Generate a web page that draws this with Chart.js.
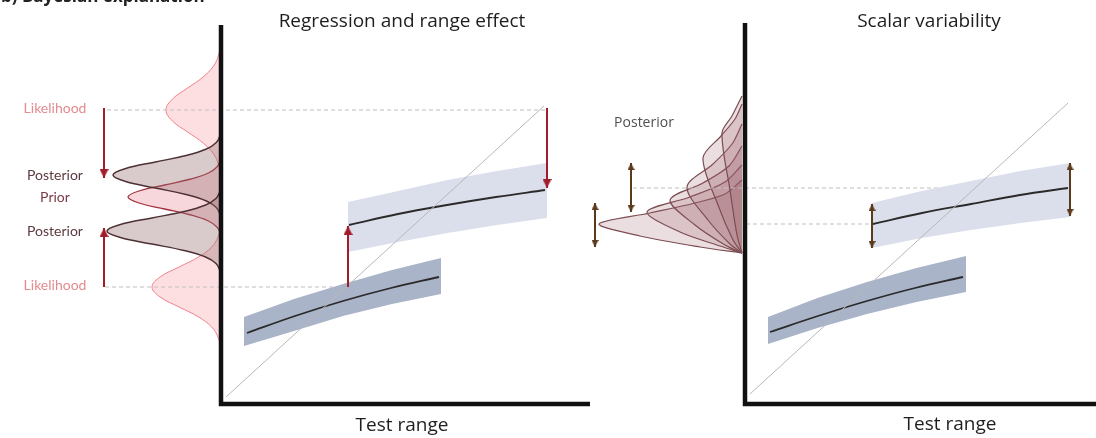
<!DOCTYPE html>
<html>
<head>
<meta charset="utf-8">
<script src="https://cdn.jsdelivr.net/npm/chart.js@4.4.1/dist/chart.umd.min.js"></script>
<style>
  html, body { margin: 0; padding: 0; background: #fff; overflow: hidden; }
  #wrap { position: relative; width: 1096px; height: 438px; }
  canvas { position: absolute; top: 0; }
  #left { left: 0; }
  #right { left: 584px; }
</style>
</head>
<body>
<div id="wrap">
  <canvas id="left" width="592" height="438"></canvas>
  <canvas id="right" width="512" height="438"></canvas>
</div>
<script>
// ---- data (units: test range / response, axis corner = 0,0) ----
const identityX = [0.5, 32.3];
const identityY = [0.7, 29.8];

// left panel: short and long test ranges
const lowBandX = [2.3, 7.3, 12.2, 17.1, 22.0];
const lowBandUpper = [8.7, 10.5, 12.0, 13.4, 14.6];
const lowBandLower = [5.8, 7.3, 8.8, 10.0, 11.0];
const lowMeanX = [2.6, 7.4, 12.2, 17.0, 21.8];
const lowMeanY = [7.1, 8.8, 10.3, 11.6, 12.7];

const highBandX = [12.7, 17.7, 22.65, 27.6, 32.6];
const highBandUpper = [20.2, 21.3, 22.4, 23.3, 24.1];
const highBandLower = [15.2, 16.2, 17.1, 17.9, 18.6];
const highMeanX = [12.8, 17.7, 22.6, 27.5, 32.4];
const highMeanY = [17.9, 19.0, 19.9, 20.7, 21.4];

// densities drawn against the response axis (x < 0 = density)
const likeHighY = [37.0, 36.0, 34.9, 33.8, 32.7, 31.6, 30.5, 29.4, 28.3, 27.2, 26.1, 25.0, 23.9, 22.8, 21.8];
const likeHighD = [0, -0.06, -0.24, -0.74, -1.79, -3.34, -4.85, -5.5, -4.85, -3.34, -1.79, -0.74, -0.24, -0.06, 0];
const likeLowY = [18.7, 17.7, 16.7, 15.7, 14.7, 13.7, 12.7, 11.7, 10.7, 9.7, 8.7, 7.7, 6.7, 5.7, 4.7];
const likeLowD = [0, -0.08, -0.30, -0.93, -2.24, -4.19, -6.09, -6.9, -6.09, -4.19, -2.24, -0.93, -0.30, -0.08, 0];
const priorY = [24.9, 24.3, 23.7, 23.1, 22.5, 21.9, 21.3, 20.7, 20.1, 19.5, 18.9, 18.3, 17.7, 17.1, 16.5];
const priorD = [0, -0.10, -0.41, -1.26, -3.01, -5.64, -8.21, -9.3, -8.21, -5.64, -3.01, -1.26, -0.41, -0.10, 0];
const postUpY = [27.4, 26.8, 26.15, 25.5, 24.85, 24.2, 23.55, 22.9, 22.25, 21.6, 20.95, 20.3, 19.65, 19.0, 18.4];
const postUpD = [0, -0.12, -0.47, -1.46, -3.50, -6.55, -9.53, -10.8, -9.53, -6.55, -3.50, -1.46, -0.47, -0.12, 0];
const postLowY = [21.8, 21.2, 20.55, 19.9, 19.25, 18.6, 17.95, 17.3, 16.65, 16.0, 15.35, 14.7, 14.05, 13.4, 12.8];
const postLowD = [0, -0.13, -0.50, -1.54, -3.69, -6.91, -10.06, -11.4, -10.06, -6.91, -3.69, -1.54, -0.50, -0.13, 0];

const leftDashY = [29.4, 11.7];
const leftDashX0 = [-11.4, -11.6];
const leftDashX1 = [32.4, 12.7];

// right panel: scalar variability
const rLowBandX = [2.3, 7.25, 12.2, 17.15, 22.1];
const rLowBandUpper = [8.7, 10.6, 12.2, 13.6, 14.8];
const rLowBandLower = [6.0, 7.6, 9.0, 10.2, 11.2];
const rLowMeanX = [2.5, 7.3, 12.2, 17.0, 21.8];
const rLowMeanY = [7.2, 8.8, 10.3, 11.6, 12.7];

const rHighBandX = [12.7, 17.65, 22.6, 27.55, 32.5];
const rHighBandUpper = [20.1, 21.3, 22.3, 23.3, 24.1];
const rHighBandLower = [15.6, 16.6, 17.4, 18.1, 18.7];
const rHighMeanX = [12.8, 17.7, 22.6, 27.5, 32.3];
const rHighMeanY = [18.0, 19.1, 20.0, 20.9, 21.6];

// fan of posteriors (density, response): upper tail -> peak -> common lower end
const fanD = [
  [-0.3, -2.0, -5.0, -9.5, -14.6, -10.5, -4.5, -0.3],
  [-0.3, -2.0, -5.5, -9.8, -6.5, -2.5, -0.3],
  [-0.3, -1.6, -4.2, -7.5, -5.0, -2.0, -0.3],
  [-0.3, -1.3, -3.2, -5.8, -3.7, -1.5, -0.3],
  [-0.3, -1.0, -2.4, -4.2, -2.7, -1.2, -0.3],
  [-0.3, -0.7, -1.3, -2.3, -1.5, -0.8, -0.3]
];
const fanY = [
  [22.4, 21.0, 20.1, 19.1, 18.0, 16.8, 15.7, 15.1],
  [23.9, 22.2, 20.7, 19.2, 17.2, 15.8, 15.1],
  [25.8, 23.8, 22.1, 20.4, 17.9, 15.9, 15.1],
  [28.0, 26.0, 24.0, 21.7, 18.4, 16.0, 15.1],
  [30.0, 28.5, 26.8, 24.6, 19.9, 16.4, 15.1],
  [30.8, 30.0, 28.8, 27.1, 21.4, 16.9, 15.1]
];
const rightDashY = [21.6, 18.0];
const rightDashX0 = [-11.2, 0.1];
const rightDashX1 = [32.3, 12.8];

// arrows: [x, from, to]
const leftArrows = [[-11.7, 29.6, 22.6], [-11.7, 11.7, 17.6], [12.7, 11.7, 17.8], [32.6, 29.6, 21.6]];
const rightArrows = [[-11.4, 24.1, 19.2], [-15.0, 20.1, 15.7], [12.7, 20.0, 15.6], [32.5, 24.1, 18.8]];

// ---- helpers ----
const Y_MIN = -3.4, Y_MAX = 40.4;

function pts(xs, ys) { return xs.map((x, i) => ({ x: x, y: ys[i] })); }

function shape(xs, ys, fillColor, stroke, width, tension) {
  return { data: pts(xs, ys), fill: 'shape', backgroundColor: fillColor,
           borderColor: stroke, borderWidth: width, tension: tension };
}

function band(xs, upper, lower, color) {
  return { data: pts(xs.concat(xs.slice().reverse()), upper.concat(lower.slice().reverse())),
           fill: 'shape', backgroundColor: color, borderWidth: 0, tension: 0 };
}

function line(xs, ys, color, width, extra) {
  return Object.assign({ data: pts(xs, ys), borderColor: color, borderWidth: width, tension: 0.4, fill: false }, extra || {});
}

function headImage(color, w, h) {
  // arrowhead whose tip sits at the image centre
  const c = document.createElement('canvas');
  c.width = w; c.height = h * 2;
  const g = c.getContext('2d');
  g.fillStyle = color;
  g.beginPath();
  g.moveTo(w / 2, h);
  g.lineTo(w, h * 2);
  g.lineTo(0, h * 2);
  g.closePath();
  g.fill();
  return c;
}

function arrow(a, color, both, head) {
  const d = [{ x: a[0], y: a[1] }, { x: a[0], y: a[2] }];
  return {
    data: d, borderColor: color, borderWidth: 2, fill: false, tension: 0,
    pointStyle: head, pointBorderWidth: 0,
    pointRadius: (c) => (both || c.dataIndex === 1) ? 1 : 0,
    pointRotation: (c) => {
      const me = d[c.dataIndex].y, other = d[1 - c.dataIndex].y;
      return me < other ? 180 : 0;
    }
  };
}

function textPlugin(items) {
  return {
    id: 'panelText',
    afterDatasetsDraw(chart) {
      const { ctx, scales } = chart;
      ctx.save();
      ctx.textBaseline = 'alphabetic';
      items.forEach(t => {
        ctx.font = t.font;
        ctx.fillStyle = t.color;
        ctx.textAlign = t.align || 'center';
        const px = scales.x.getPixelForValue(t.x), py = scales.y.getPixelForValue(t.y);
        if (t.maxWidth) ctx.fillText(t.text, px, py, t.maxWidth);
        else ctx.fillText(t.text, px, py);
      });
      ctx.restore();
    }
  };
}

function makeChart(id, xMin, xMax, datasets, texts) {
  return new Chart(document.getElementById(id), {
    type: 'line',
    data: { datasets: datasets.map((d, i) => Object.assign({ order: -i, pointRadius: 0, clip: false }, d)) },
    options: {
      responsive: false, animation: false, events: [],
      layout: { padding: 0, autoPadding: false },
      scales: {
        x: { type: 'linear', min: xMin, max: xMax, display: false },
        y: { type: 'linear', min: Y_MIN, max: Y_MAX, display: false }
      },
      plugins: { legend: { display: false }, tooltip: { enabled: false } }
    },
    plugins: [textPlugin(texts)]
  });
}

// ---- left panel ----
const RED = '#a11d2b', BROWN = '#5b3a1c', AXIS = '#111111';
const redHead = headImage(RED, 9, 9);
const brownHead = headImage(BROWN, 7, 7);
const dash = { borderDash: [4, 3], tension: 0 };

const LIKE_FILL = 'rgba(252,196,201,0.55)', LIKE_LINE = '#f0808a';
const POST_FILL = 'rgba(150,112,114,0.36)', POST_LINE = '#4d3033';
const PRIOR_FILL = 'rgba(236,150,162,0.38)', PRIOR_LINE = '#a3303f';

const leftSets = [
  shape(likeHighD, likeHighY, LIKE_FILL, LIKE_LINE, 1, 0.4),
  shape(likeLowD, likeLowY, LIKE_FILL, LIKE_LINE, 1, 0.4),
  shape(priorD, priorY, PRIOR_FILL, PRIOR_LINE, 1.3, 0.4),
  shape(postUpD, postUpY, POST_FILL, POST_LINE, 1.5, 0.4),
  shape(postLowD, postLowY, POST_FILL, POST_LINE, 1.5, 0.4),
  line([leftDashX0[0], leftDashX1[0]], [leftDashY[0], leftDashY[0]], '#bfbfbf', 1, dash),
  line([leftDashX0[1], leftDashX1[1]], [leftDashY[1], leftDashY[1]], '#bfbfbf', 1, dash),
  band(lowBandX, lowBandUpper, lowBandLower, '#aab4c8'),
  band(highBandX, highBandUpper, highBandLower, '#dbdfeb'),
  line(lowMeanX, lowMeanY, '#2a2a2a', 1.8),
  line(highMeanX, highMeanY, '#2a2a2a', 1.8),
  line(identityX, identityY, '#b8b8b8', 1, { tension: 0 })
].concat(leftArrows.map(a => arrow(a, RED, false, redHead))).concat([
  line([0, 0, 36.9], [37.9, 0, 0], AXIS, 4.5, { tension: 0, borderJoinStyle: 'miter', borderCapStyle: 'butt' })
]);

const labelFont = '14px Lato';
const leftTexts = [
  { text: 'b) Bayesian explanation', x: -22.0, y: 40.25, font: 'bold 17px "Open Sans"', color: '#222', align: 'left', maxWidth: 224 },
  { text: 'Regression and range effect', x: 18.1, y: 37.7, font: '19px "Open Sans"', color: '#1e1e1e', maxWidth: 261 },
  { text: 'Test range', x: 18.1, y: -2.7, font: '19px "Open Sans"', color: '#1e1e1e', maxWidth: 97 },
  { text: 'Likelihood', x: -16.6, y: 29.1, font: labelFont, color: '#e38b90', maxWidth: 71 },
  { text: 'Posterior', x: -16.6, y: 22.4, font: labelFont, color: '#5c3b40', maxWidth: 63 },
  { text: 'Prior', x: -16.6, y: 20.2, font: labelFont, color: '#7a3b45', maxWidth: 33 },
  { text: 'Posterior', x: -16.6, y: 16.8, font: labelFont, color: '#5c3b40', maxWidth: 63 },
  { text: 'Likelihood', x: -16.6, y: 11.4, font: labelFont, color: '#e38b90', maxWidth: 71 }
];

makeChart('left', -22.1, 37.1, leftSets, leftTexts);

// ---- right panel ----
const FAN_FILL = 'rgba(150,92,98,0.2)', FAN_LINE = '#7d4d52';
const rightSets = fanD.map((d, i) => shape(d, fanY[i], FAN_FILL, FAN_LINE, 1.2, 0.3)).concat([
  line([rightDashX0[0], rightDashX1[0]], [rightDashY[0], rightDashY[0]], '#bfbfbf', 1, dash),
  line([rightDashX0[1], rightDashX1[1]], [rightDashY[1], rightDashY[1]], '#bfbfbf', 1, dash),
  band(rLowBandX, rLowBandUpper, rLowBandLower, '#aab4c8'),
  band(rHighBandX, rHighBandUpper, rHighBandLower, '#dbdfeb'),
  line(rLowMeanX, rLowMeanY, '#2a2a2a', 1.8),
  line(rHighMeanX, rHighMeanY, '#2a2a2a', 1.8),
  line(identityX, identityY.map(v => v + 0.3), '#b8b8b8', 1, { tension: 0 })
]).concat(rightArrows.map(a => arrow(a, BROWN, true, brownHead))).concat([
  line([0, 0, 36.0], [38.1, 0, 0], AXIS, 4.5, { tension: 0, borderJoinStyle: 'miter', borderCapStyle: 'butt' })
]);

const rightTexts = [
  { text: 'Scalar variability', x: 18.4, y: 37.7, font: '19px "Open Sans"', color: '#1e1e1e', maxWidth: 152 },
  { text: 'Test range', x: 20.5, y: -2.6, font: '19px "Open Sans"', color: '#1e1e1e', maxWidth: 97 },
  { text: 'Posterior', x: -10.1, y: 27.7, font: '14px "Open Sans"', color: '#505050', maxWidth: 64 }
];

makeChart('right', -16.1, 35.1, rightSets, rightTexts);
</script>
</body>
</html>
